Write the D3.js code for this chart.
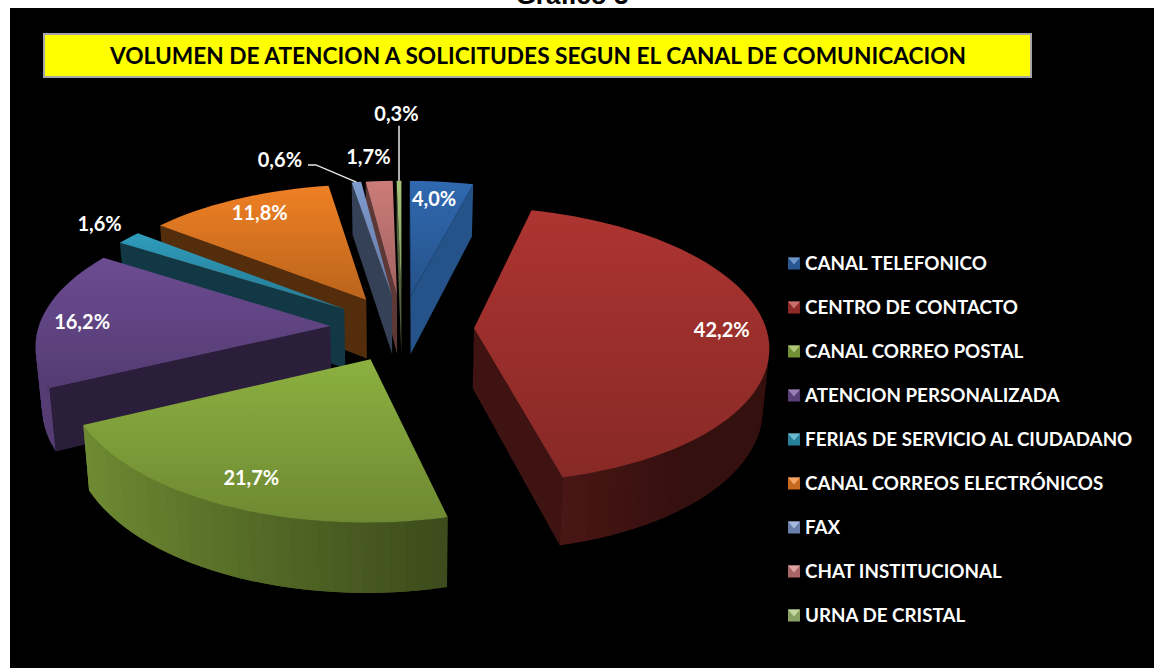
<!DOCTYPE html>
<html>
<head>
<meta charset="utf-8">
<script src="https://cdn.jsdelivr.net/npm/d3@7"></script>
<style>
  html, body { margin: 0; padding: 0; background: #fff; overflow: hidden; }
  svg { display: block; }
  text { font-family: Lato, "Open Sans", sans-serif; font-weight: 700; }
</style>
</head>
<body>
<div id="chart"></div>
<script>
// data
var categories = ["CANAL TELEFONICO", "CENTRO DE CONTACTO", "CANAL CORREO POSTAL",
  "ATENCION PERSONALIZADA", "FERIAS DE SERVICIO AL CIUDADANO", "CANAL CORREOS ELECTRÓNICOS",
  "FAX", "CHAT INSTITUCIONAL", "URNA DE CRISTAL"];
var values = [4.0, 42.2, 21.7, 16.2, 1.6, 11.8, 0.6, 1.7, 0.3];

// styles, one entry per slice
var colors = ["#3069b0", "#ad3431", "#8cb040", "#6c4c92", "#2f9cbc", "#ef8024", "#7f9bcf", "#cc7c7a", "#a8c47a"];
var cutShade = [0.78, 0.36, 0.4, 0.4, 0.36, 0.35, 0.42, 0.45, 0.5];
// label nudges from the default spot on the slice
var labelShift = [[-2,-4],[14,1],[-4,5],[-17,2],[-70,-27],[-2,-5],[-83,-43],[-14,-45],[-3,-88]];

var width = 1154, height = 668;
var cx = 402, cy = 328,       // where the unexploded pie centre lands
    R = 292, explode = 72,
    tilt = 0.465, persp = 0.12, depth = 60;

var svg = d3.select("#chart").append("svg")
  .attr("width", width)
  .attr("height", height);
var defs = svg.append("defs");

// heading runs off the top of the page, as in the picture
svg.append("text")
  .attr("x", 572)
  .attr("y", 3.5)
  .attr("text-anchor", "middle")
  .style("font-family", "'Liberation Sans', Arial, sans-serif")
  .style("font-size", "26px")
  .style("fill", "#000")
  .text("Gráfico 3");

svg.append("rect")
  .attr("x", 10)
  .attr("y", 8)
  .attr("width", width - 10)
  .attr("height", height - 8)
  .style("fill", "#000");

// title box
svg.append("rect")
  .attr("x", 44)
  .attr("y", 34)
  .attr("width", 987)
  .attr("height", 43)
  .style("fill", "#ffff00")
  .style("stroke", "#a6a6a6")
  .style("stroke-width", 2);
svg.append("text")
  .attr("x", 538)
  .attr("y", 64)
  .attr("text-anchor", "middle")
  .style("font-size", "22.7px")
  .style("fill", "#000")
  .text("VOLUMEN DE ATENCION A SOLICITUDES SEGUN EL CANAL DE COMUNICACION");

// slices
var pie = d3.pie().sort(null).startAngle(0).endAngle(2 * Math.PI);
var slices = pie(values).map(function(d, i) {
  d.i = i;
  d.mid = (d.startAngle + d.endAngle) / 2;
  return d;
});

// ground plane -> screen, near things bigger, walls narrow a little going down
function project(u, v, h) {
  h = h || 0;
  var s = 1 / (1 + persp * v / R);
  return [cx + u * s * (1 - 0.0003 * h), cy - v * tilt * s + h * s];
}
function onSlice(d, angle, r, h) {
  var u = explode * Math.sin(d.mid) + r * Math.sin(angle),
      v = explode * Math.cos(d.mid) + r * Math.cos(angle);
  return project(u, v, h);
}

function cross(a, b, c, e) { return a * e - b * c; }
// a wall hangs below the edge p-q, only seen if the top face is on the far side of it
function wallVisible(p, q, inside) {
  var ex = q[0] - p[0], ey = q[1] - p[1];
  return cross(ex, ey, 0, 1) * cross(ex, ey, inside[0] - p[0], inside[1] - p[1]) < 0;
}
function shade(color, k) { return d3.interpolateRgb("#000", color)(k); }
function wallTone(angle) {
  return Math.max(0.3, Math.min(0.82, 0.5 - 0.32 * Math.sin(angle)));
}

var line = d3.line();

colors.forEach(function(c, i) {
  var g = defs.append("linearGradient")
    .attr("id", "top" + i)
    .attr("x1", 0).attr("y1", 0).attr("x2", 0).attr("y2", 1);
  g.append("stop").attr("offset", "0%").attr("stop-color", c);
  g.append("stop").attr("offset", "100%").attr("stop-color", shade(c, 0.78));
});

// back to front
var order = slices.slice().sort(function(a, b) { return Math.cos(b.mid) - Math.cos(a.mid); });

var pieG = svg.append("g");
order.forEach(function(d) {
  var col = colors[d.i];
  var g = pieG.append("g");
  var apex = onSlice(d, 0, 0, 0), apexLow = onSlice(d, 0, 0, depth);
  var steps = Math.max(2, Math.ceil((d.endAngle - d.startAngle) / (2.5 * Math.PI / 180)));
  var angles = d3.range(steps + 1).map(function(k) {
    return d.startAngle + (d.endAngle - d.startAngle) * k / steps;
  });
  var rim = angles.map(function(a) { return onSlice(d, a, R, 0); });
  var rimLow = angles.map(function(a) { return onSlice(d, a, R, depth); });
  var mid = onSlice(d, d.mid, R * 0.6, 0);

  // cut faces
  [[rim[0], rimLow[0]], [rim[steps], rimLow[steps]]].forEach(function(e) {
    if (!wallVisible(apex, e[0], mid)) return;
    g.append("path")
      .attr("d", line([apex, e[0], e[1], apexLow]) + "Z")
      .style("fill", shade(col, cutShade[d.i]));
  });

  // outer wall, one strip per step so the tone can change around the rim.
  // each strip runs under the next one, otherwise the seams show
  d3.range(steps).forEach(function(k) {
    if (!wallVisible(rim[k], rim[k + 1], apex)) return;
    var n = Math.min(k + 2, steps);
    if (!wallVisible(rim[n - 1], rim[n], apex)) n = k + 1;
    g.append("path")
      .attr("d", line([rim[k], rim[n], rimLow[n], rimLow[k]]) + "Z")
      .style("fill", shade(col, wallTone((angles[k] + angles[k + 1]) / 2)));
  });

  // top face
  g.append("path")
    .attr("d", line([apex].concat(rim)) + "Z")
    .style("fill", "url(#top" + d.i + ")");
});

// data labels
var labelPos = slices.map(function(d) {
  var p = onSlice(d, d.mid, R * 0.8, 0);
  return [p[0] + labelShift[d.i][0], p[1] + labelShift[d.i][1]];
});

// leader lines for the two thinnest slices
var leaderG = svg.append("g");
[6, 8].forEach(function(i) {
  var end = onSlice(slices[i], slices[i].mid, R, 0), pts;
  if (i == 6) {
    pts = [[labelPos[i][0] + 28, labelPos[i][1] + 5], [labelPos[i][0] + 36, labelPos[i][1] + 5], end];
  } else {
    pts = [[end[0], labelPos[i][1] + 12], end];
  }
  leaderG.append("path")
    .attr("d", line(pts))
    .style("fill", "none")
    .style("stroke", "#e8e8e8")
    .style("stroke-width", 1.5);
});

svg.append("g").selectAll("text")
  .data(slices)
  .enter()
  .append("text")
    .attr("x", function(d) { return labelPos[d.i][0]; })
    .attr("y", function(d) { return labelPos[d.i][1] + 7; })
    .attr("text-anchor", "middle")
    .style("font-size", "20px")
    .style("fill", "#fff")
    .text(function(d) { return d.value.toFixed(1).replace(".", ",") + "%"; });

// legend
var legendY = d3.scalePoint().domain(categories).range([263.5, 615.5]);
var legend = svg.append("g").selectAll("g")
  .data(categories)
  .enter()
  .append("g")
    .attr("transform", function(d) { return "translate(788," + legendY(d) + ")"; });
legend.append("rect")
  .attr("x", 0)
  .attr("y", -6)
  .attr("width", 12)
  .attr("height", 12)
  .style("fill", function(d, i) { return shade(colors[i], 0.82); });
legend.append("path")
  .attr("d", line([[0, -6], [12, -6], [6, 1]]) + "Z")
  .style("fill", function(d, i) { return d3.interpolateRgb(colors[i], "#fff")(0.3); });
legend.append("text")
  .attr("x", 17)
  .attr("y", 6.5)
  .style("font-size", "18.8px")
  .style("fill", "#fff")
  .text(function(d) { return d; });
</script>
</body>
</html>
